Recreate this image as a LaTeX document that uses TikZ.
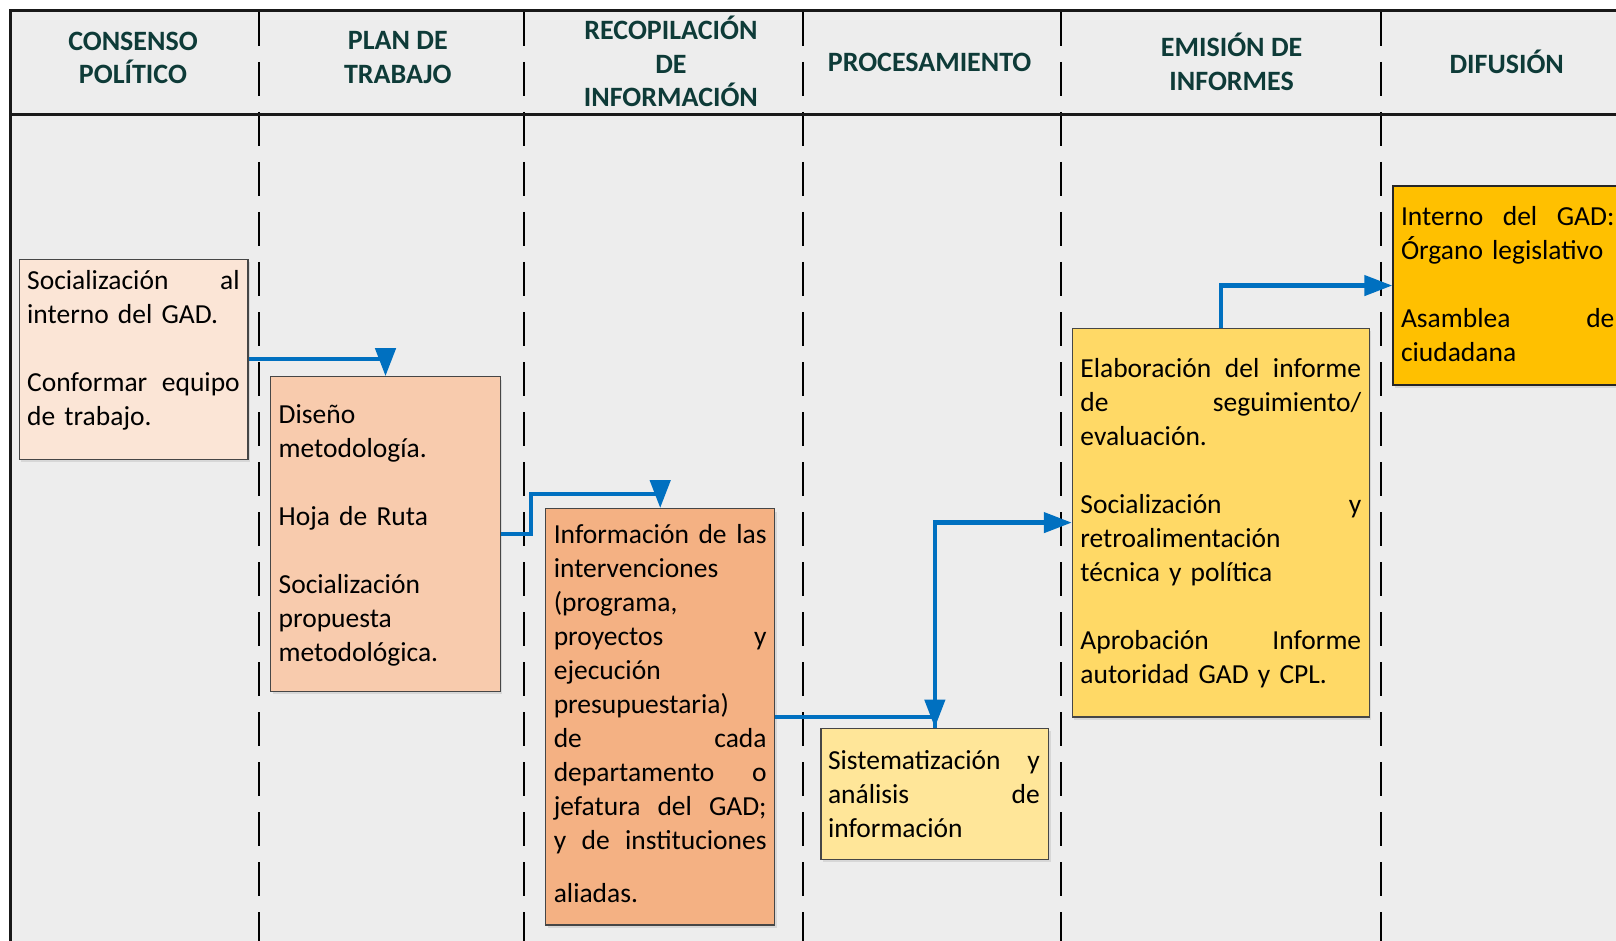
\documentclass[tikz,border=0pt]{standalone}
\usepackage{fontspec}
\setmainfont{Carlito}
\usetikzlibrary{arrows.meta, shadows}

\definecolor{fondo}{HTML}{EDEDED}
\definecolor{azul}{HTML}{0070C0}
\definecolor{tituloverde}{HTML}{0E3B38}
\definecolor{c1}{HTML}{FBE5D6}
\definecolor{c2}{HTML}{F8CBAD}
\definecolor{c3}{HTML}{F4B183}
\definecolor{c4}{HTML}{FFE699}
\definecolor{c5}{HTML}{FFD966}
\definecolor{c6}{HTML}{FFC000}

% linea justificada a todo el ancho
\newcommand{\jl}[1]{\makebox[\linewidth][s]{\spaceskip=0pt\relax #1}}

\begin{document}
\begin{tikzpicture}[x=0.5pt, y=-0.5pt,
    caja/.style={draw=gray!55!black, line width=0.6pt, anchor=north west, inner sep=0pt,
      drop shadow={shadow xshift=1pt, shadow yshift=-1.5pt, opacity=0.2, fill=gray}},
    texto/.style={anchor=base west, inner sep=0pt, text width=#1, align=left,
      font=\fontsize{13.75}{17}\selectfont},
    titulo/.style={font=\fontsize{14}{16.75}\selectfont\bfseries, text=tituloverde, align=center},
    flecha/.style={draw=azul, line width=2.2pt, -{Triangle[length=14pt, width=10pt]}},
    divisor/.style={black, line width=1pt, dash pattern=on 17pt off 8pt},
    marco/.style={black!90, line width=1.5pt}]
  \useasboundingbox (0,0) rectangle (1616,941);
  \clip (0,0) rectangle (1616,941);

  % fondo y marco
  \fill[fondo] (10.3,10.3) rectangle (1640,960);
  \foreach \x in {258.7,523.5,802.8,1060.5,1381}
    \draw[divisor] (\x,12) -- (\x,960);
  \draw[marco] (10.3,960) -- (10.3,10.3) -- (1640,10.3);
  \draw[marco] (10.3,114.4) -- (1640,114.4);

  % titulos
  \node[titulo] (cab-consenso) at (133,57.7) {CONSENSO\\POLÍTICO};
  \node[titulo] (cab-plan) at (397.8,57.7) {PLAN DE\\TRABAJO};
  \node[titulo] (cab-recop) at (670.9,61.5) {RECOPILACIÓN\\DE\\INFORMACIÓN};
  \node[titulo] (cab-proc) at (929.6,62.9) {PROCESAMIENTO};
  \node[titulo] (cab-emision) at (1231.6,62) {EMISIÓN DE\\INFORMES};
  \node[titulo] (cab-difusion) at (1506.7,61.5) {DIFUSIÓN};

  % cajas
  \node[caja, fill=c1, minimum width=114.35pt, minimum height=99.95pt] (consenso) at (18.6,258.7) {};
  \node[caja, fill=c2, minimum width=114.9pt, minimum height=157.15pt] (plan) at (270,376.2) {};
  \node[caja, fill=c3, minimum width=114.4pt, minimum height=208.15pt] (recopilacion) at (545.2,508.1) {};
  \node[caja, fill=c4, minimum width=113.85pt, minimum height=65.45pt] (procesamiento) at (820.4,727.6) {};
  \node[caja, fill=c5, minimum width=148.4pt, minimum height=194.3pt] (emision) at (1071.8,327.7) {};
  \node[caja, fill=c6, draw=black!85, minimum width=114.85pt, minimum height=99.45pt] (difusion) at (1392.3,185.5) {};

  % textos
  \node[texto=106.3pt] (t-consenso) at ([shift={(8.2,30.4)}]consenso.north west)
    {\jl{Socialización al}\\
     interno del GAD.\\[17pt]
     \jl{Conformar equipo}\\
     de trabajo.};
  \node[texto=106.9pt] (t-plan) at ([shift={(8.3,47)}]plan.north west)
    {Diseño\\
     metodología.\\[17pt]
     Hoja de Ruta\\[17pt]
     Socialización\\
     propuesta\\
     metodológica.};
  \node[texto=106.4pt] (t-recop) at ([shift={(8.2,35.8)}]recopilacion.north west)
    {\jl{Información de las}\\
     intervenciones\\
     (programa,\\
     \jl{proyectos y}\\
     ejecución\\
     presupuestaria)\\
     \jl{de cada}\\
     \jl{departamento o}\\
     \jl{jefatura del GAD;}\\
     \jl{y de instituciones}\\[9.3pt]
     aliadas.};
  \node[texto=105.9pt] (t-proc) at ([shift={(7.2,41.8)}]procesamiento.north west)
    {\jl{Sistematización y}\\
     \jl{análisis de}\\
     información};
  \node[texto=140.4pt] (t-emision) at ([shift={(8.2,50.2)}]emision.north west)
    {\jl{Elaboración del informe}\\
     \jl{de seguimiento/}\\
     evaluación.\\[17pt]
     \jl{Socialización y}\\
     retroalimentación\\
     técnica y política\\[17pt]
     \jl{Aprobación Informe}\\
     autoridad GAD y CPL.};
  \node[texto=106.7pt] (t-difusion) at ([shift={(8.3,40.5)}]difusion.north west)
    {\jl{Interno del GAD:}\\
     Órgano legislativo\\[17pt]
     \jl{Asamblea de}\\
     ciudadana};

  % flechas
  \coordinate (k1) at (530.7,493.7);
  \draw[flecha] (consenso.east) -| (plan.north);
  \draw[flecha] (plan.east) -| (k1) -| (recopilacion.north);
  \draw[flecha] (recopilacion.east) -| (procesamiento.north);
  \draw[flecha] (procesamiento.north) |- (emision.west);
  \draw[flecha] (emision.north) |- (difusion.west);
\end{tikzpicture}
\end{document}
